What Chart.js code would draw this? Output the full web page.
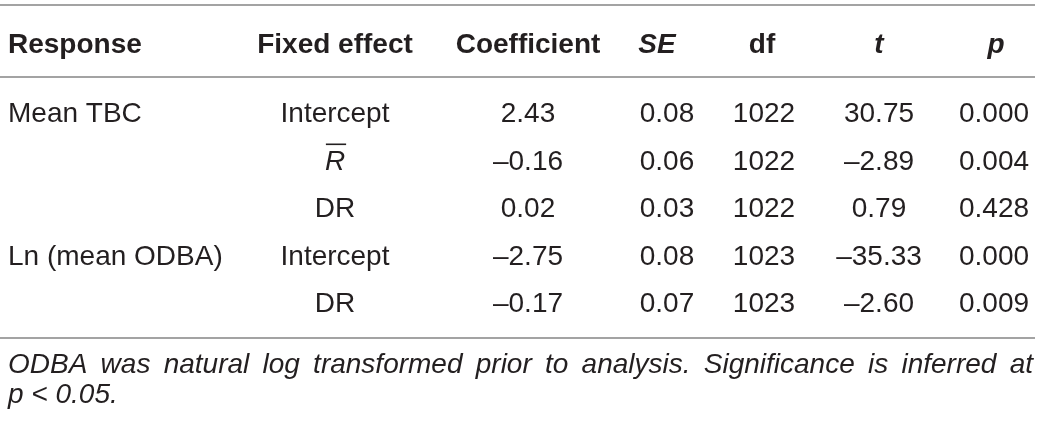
<!DOCTYPE html>
<html>
<head>
<meta charset="utf-8">
<script src="https://cdn.jsdelivr.net/npm/chart.js@4"></script>
<style>
  html, body { margin: 0; padding: 0; background: #fff; }
  #wrap { width: 1041px; height: 423px; }
</style>
</head>
<body>
<div id="wrap"><canvas id="table" width="1041" height="423"></canvas></div>
<script>
// Table content
const headers = ['Response', 'Fixed effect', 'Coefficient', 'SE', 'df', 't', 'p'];
const responses = ['Mean TBC', '', '', 'Ln (mean ODBA)', ''];
const effects = ['Intercept', 'R\u0304', 'DR', 'Intercept', 'DR'];
const coefficients = [2.43, -0.16, 0.02, -2.75, -0.17];
const standardErrors = [0.08, 0.06, 0.03, 0.08, 0.07];
const degreesFreedom = [1022, 1022, 1022, 1023, 1023];
const tValues = [30.75, -2.89, 0.79, -35.33, -2.60];
const pValues = [0.000, 0.004, 0.428, 0.000, 0.009];
const footnoteLines = [
  'ODBA was natural log transformed prior to analysis. Significance is inferred at',
  'p < 0.05.'
];

// Layout (in canvas units, mapped through the chart scales)
const layout = {
  headX:  [8, 335, 528, 657, 762, 879, 996],
  cellX:  [8, 335, 528, 667, 764, 879, 994],
  headY: 53,
  rowY: [122, 169.5, 217, 264.5, 312],
  rules: [5, 77, 338],
  ruleEnd: 1035,
  noteX: 8,
  noteEnd: 1033,
  noteY: [373, 403],
  fontSize: 28
};
const ink = '#231f20';
const ruleColor = '#a3a3a3';
const family = '"Liberation Sans", Arial, sans-serif';

function fmt(v, digits) {
  const s = Math.abs(v).toFixed(digits);
  return v < 0 ? '\u2013' + s : s;
}

const tablePlugin = {
  id: 'tableDraw',
  afterDraw(chart) {
    const ctx = chart.ctx;
    const xs = chart.scales.x, ys = chart.scales.y;
    const X = v => xs.getPixelForValue(v);
    const Y = v => ys.getPixelForValue(v);
    const fs = layout.fontSize;

    ctx.save();
    // horizontal rules
    ctx.strokeStyle = ruleColor;
    ctx.lineWidth = 2;
    layout.rules.forEach(r => {
      ctx.beginPath();
      ctx.moveTo(X(0), Y(r));
      ctx.lineTo(X(layout.ruleEnd), Y(r));
      ctx.stroke();
    });

    ctx.fillStyle = ink;
    ctx.textBaseline = 'alphabetic';

    // header row
    headers.forEach((h, i) => {
      const italic = (h === 'SE' || h === 't' || h === 'p');
      ctx.font = (italic ? 'italic ' : '') + 'bold ' + fs + 'px ' + family;
      ctx.textAlign = i === 0 ? 'left' : 'center';
      ctx.fillText(h, X(layout.headX[i]), Y(layout.headY));
    });

    // body rows
    const columns = [
      responses,
      effects,
      coefficients.map(v => fmt(v, 2)),
      standardErrors.map(v => fmt(v, 2)),
      degreesFreedom.map(v => String(v)),
      tValues.map(v => fmt(v, 2)),
      pValues.map(v => fmt(v, 3))
    ];
    columns.forEach((col, c) => {
      col.forEach((txt, r) => {
        if (!txt) return;
        const x = X(layout.cellX[c]), y = Y(layout.rowY[r]);
        ctx.textAlign = c === 0 ? 'left' : 'center';
        if (txt.indexOf('\u0304') >= 0) {
          // R with overbar
          const base = txt.replace('\u0304', '');
          ctx.font = 'italic ' + fs + 'px ' + family;
          ctx.fillText(base, x, y);
          const w = ctx.measureText(base).width;
          ctx.strokeStyle = ink;
          ctx.lineWidth = 1.6;
          ctx.beginPath();
          ctx.moveTo(x - w / 2 + 1, y - fs * 0.9);
          ctx.lineTo(x + w / 2 + 1, y - fs * 0.9);
          ctx.stroke();
        } else {
          ctx.font = fs + 'px ' + family;
          ctx.fillText(txt, x, y);
        }
      });
    });

    // footnote, first line justified
    ctx.font = 'italic ' + fs + 'px ' + family;
    ctx.textAlign = 'left';
    footnoteLines.forEach((line, i) => {
      const y = Y(layout.noteY[i]);
      if (i < footnoteLines.length - 1) {
        const words = line.split(' ');
        const widths = words.map(w => ctx.measureText(w).width);
        const total = widths.reduce((a, b) => a + b, 0);
        const span = X(layout.noteEnd) - X(layout.noteX);
        let gap = (span - total) / (words.length - 1);
        let sx = 1;
        const minGap = ctx.measureText(' ').width * 0.8;
        if (gap < minGap) {
          sx = (span - minGap * (words.length - 1)) / total;
          gap = minGap;
        }
        let cx = X(layout.noteX);
        words.forEach((w, k) => {
          ctx.save();
          ctx.translate(cx, y);
          ctx.scale(sx, 1);
          ctx.fillText(w, 0, 0);
          ctx.restore();
          cx += widths[k] * sx + gap;
        });
      } else {
        ctx.fillText(line, X(layout.noteX), y);
      }
    });
    ctx.restore();
  }
};

new Chart(document.getElementById('table'), {
  type: 'scatter',
  data: { datasets: [{ data: [] }] },
  options: {
    responsive: false,
    animation: false,
    devicePixelRatio: 1,
    layout: { padding: 0 },
    plugins: { legend: { display: false }, tooltip: { enabled: false } },
    scales: {
      x: { type: 'linear', min: 0, max: 1041, display: false },
      y: { type: 'linear', min: 0, max: 423, reverse: true, display: false }
    }
  },
  plugins: [tablePlugin]
});
</script>
</body>
</html>
